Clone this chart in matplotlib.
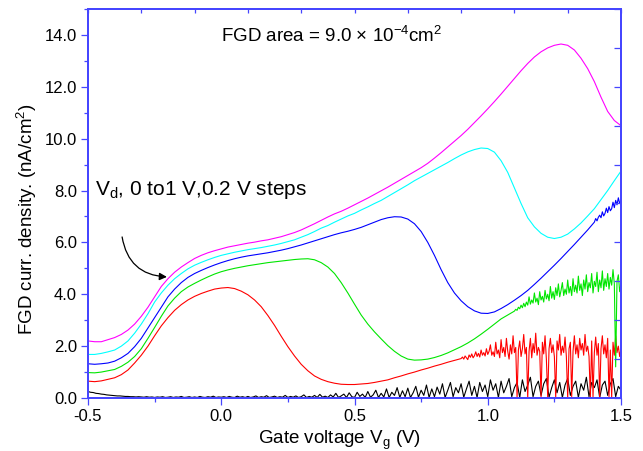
import numpy as np
import matplotlib
matplotlib.use("Agg")
import matplotlib.pyplot as plt
from matplotlib.ticker import MultipleLocator

plt.rcParams['font.family'] = ['Liberation Sans', 'DejaVu Sans']
plt.rcParams['mathtext.fontset'] = 'custom'
plt.rcParams['mathtext.rm'] = 'Liberation Sans'
plt.rcParams['mathtext.it'] = 'Liberation Sans'

# gate sweep for the smooth parts, 25 mV step
v_grid = np.round(np.arange(-0.5, 1.5001, 0.025), 3)

# Vd = 1.0 V
j_magenta = [2.20, 2.17, 2.17, 2.25, 2.33, 2.45, 2.62, 2.85, 3.15, 3.50,
             3.90, 4.30, 4.60, 4.85, 5.05, 5.22, 5.38, 5.50, 5.60, 5.68,
             5.75, 5.82, 5.87, 5.92, 5.97, 6.01, 6.06, 6.10, 6.16, 6.22,
             6.30, 6.38, 6.48, 6.60, 6.72, 6.85, 6.98, 7.10, 7.20, 7.32,
             7.45, 7.58, 7.71, 7.85, 7.99, 8.13, 8.28, 8.43, 8.58, 8.73,
             8.88, 9.05, 9.25, 9.46, 9.68, 9.90, 10.12, 10.36, 10.62, 10.88,
             11.15, 11.43, 11.72, 12.02, 12.32, 12.62, 12.90, 13.15, 13.35, 13.50,
             13.60, 13.65, 13.60, 13.42, 13.10, 12.70, 12.20, 11.60, 11.05, 10.70,
             10.50]
# Vd = 0.8 V
j_cyan = [1.68, 1.68, 1.72, 1.78, 1.85, 2.00, 2.20, 2.50, 2.85, 3.25,
          3.70, 4.05, 4.35, 4.60, 4.80, 4.98, 5.12, 5.23, 5.33, 5.42,
          5.50, 5.56, 5.62, 5.67, 5.72, 5.76, 5.80, 5.85, 5.90, 5.96,
          6.03, 6.10, 6.20, 6.30, 6.42, 6.55, 6.65, 6.78, 6.90, 7.02,
          7.12, 7.25, 7.37, 7.50, 7.62, 7.77, 7.92, 8.07, 8.22, 8.38,
          8.52, 8.66, 8.80, 8.94, 9.08, 9.23, 9.37, 9.49, 9.58, 9.64,
          9.62, 9.48, 9.15, 8.70, 8.10, 7.50, 6.95, 6.60, 6.35, 6.20,
          6.15, 6.20, 6.32, 6.52, 6.75, 7.02, 7.30, 7.65, 8.00, 8.38,
          8.75]
# Vd = 0.6 V (grid part up to 1.4 V)
j_blue = [1.32, 1.30, 1.32, 1.35, 1.42, 1.55, 1.72, 1.98, 2.30, 2.70,
          3.10, 3.50, 3.90, 4.20, 4.45, 4.65, 4.80, 4.92, 5.03, 5.13,
          5.22, 5.30, 5.37, 5.43, 5.48, 5.52, 5.56, 5.60, 5.65, 5.70,
          5.76, 5.83, 5.90, 5.98, 6.06, 6.14, 6.22, 6.30, 6.37, 6.43,
          6.50, 6.58, 6.68, 6.78, 6.88, 6.95, 6.99, 6.98, 6.90, 6.72,
          6.42, 6.00, 5.50, 4.95, 4.45, 4.05, 3.75, 3.52, 3.36, 3.27,
          3.26, 3.32, 3.45, 3.60, 3.77, 3.95, 4.15, 4.38, 4.62, 4.87,
          5.12, 5.38, 5.65, 5.92, 6.20, 6.48, 6.78]
# noisy end of the Vd = 0.6 V sweep, 5 mV step from 1.40 V
j_blue_tail = [6.78, 6.92, 6.83, 6.97, 7.05, 6.95, 7.18, 7.02, 7.12, 7.32,
               7.15, 7.38, 7.22, 7.30, 7.55, 7.34, 7.62, 7.45, 7.72, 7.50,
               7.62]
# Vd = 0.4 V (grid part up to 1.1 V)
j_green = [0.98, 0.97, 1.00, 1.05, 1.10, 1.22, 1.38, 1.60, 1.90, 2.30,
           2.72, 3.15, 3.55, 3.85, 4.10, 4.28, 4.42, 4.55, 4.67, 4.78,
           4.87, 4.94, 5.00, 5.05, 5.10, 5.14, 5.18, 5.22, 5.25, 5.28,
           5.31, 5.34, 5.36, 5.37, 5.33, 5.22, 5.05, 4.80, 4.45, 4.05,
           3.62, 3.20, 2.85, 2.55, 2.28, 2.02, 1.80, 1.62, 1.50, 1.46,
           1.47, 1.50, 1.56, 1.64, 1.74, 1.86, 1.98, 2.12, 2.28, 2.46,
           2.65, 2.85, 3.05, 3.20, 3.35]
# noisy end of the Vd = 0.4 V sweep, 5 mV step from 1.10 V
j_green_tail = [3.35, 3.42, 3.38, 3.50, 3.44, 3.58, 3.48, 3.65, 3.52, 3.70,
                3.58, 3.90, 3.62, 3.78, 3.66, 4.05, 3.70, 3.85, 3.60, 4.10,
                3.78, 3.92, 3.70, 4.15, 3.82, 4.00, 3.75, 4.30, 3.85, 4.10,
                3.80, 4.25, 3.95, 4.40, 3.90, 4.15, 4.45, 3.95, 4.20, 4.00,
                4.55, 4.05, 4.30, 3.95, 4.60, 4.10, 4.35, 4.05, 4.70, 4.15,
                4.40, 3.95, 4.55, 4.20, 4.75, 4.10, 4.45, 4.25, 4.80, 4.05,
                4.50, 4.30, 4.85, 4.10, 4.55, 4.25, 4.90, 4.15, 4.60, 4.30,
                4.80, 4.20, 4.65, 4.35, 4.95, 4.40, 1.20, 4.50, 4.75, 4.10,
                4.40]
# Vd = 0.2 V (grid part up to 0.9 V)
j_red = [0.65, 0.63, 0.66, 0.72, 0.78, 0.90, 1.08, 1.35, 1.65, 2.00,
         2.40, 2.78, 3.10, 3.38, 3.60, 3.78, 3.92, 4.03, 4.12, 4.20,
         4.24, 4.26, 4.22, 4.12, 3.98, 3.78, 3.52, 3.18, 2.80, 2.38,
         1.98, 1.62, 1.30, 1.05, 0.85, 0.72, 0.63, 0.57, 0.53, 0.52,
         0.52, 0.54, 0.56, 0.60, 0.65, 0.70, 0.78, 0.85, 0.93, 1.00,
         1.08, 1.15, 1.23, 1.30, 1.38, 1.45, 1.52]
# noisy end of the Vd = 0.2 V sweep, 5 mV step from 0.90 V
j_red_tail = [1.52, 1.58, 1.50, 1.62, 1.55, 1.48, 1.66, 1.57, 1.70, 1.55,
              1.63, 1.78, 1.60, 1.72, 1.58, 1.85, 1.65, 1.75, 1.62, 1.90,
              1.68, 1.80, 2.05, 1.65, 1.78, 1.60, 2.15, 1.70, 1.85, 1.55,
              2.25, 1.75, 1.95, 1.60, 2.30, 1.80, 1.50, 2.05, 1.70, 2.40,
              1.75, 1.95, 0.02, 1.85, 2.20, 1.60, 1.90, 2.45, 1.70, 1.95,
              0.00, 1.80, 2.30, 1.55, 2.10, 1.75, 2.50, 1.65, 1.95, 1.80,
              0.02, 2.15, 1.70, 2.40, 1.50, 0.03, 1.90, 2.30, 1.75, 2.05,
              1.60, 0.02, 2.20, 1.85, 2.45, 1.65, 2.00, 1.75, 2.35, 1.60,
              0.00, 1.90, 2.15, 0.05, 1.80, 2.40, 1.70, 2.05, 1.55, 2.30,
              1.85, 2.10, 1.65, 2.45, 1.80, 2.00, 1.60, 0.02, 2.20, 0.05,
              1.75, 2.35, 1.65, 2.10, 0.00, 1.90, 2.40, 1.70, 2.05, 1.55,
              2.30, 0.05, 1.85, 0.02, 2.15, 1.65, 2.40, 1.75, 2.00, 1.60,
              1.90]
# Vd = 0 V, 10 mV step over the whole sweep
v_black = np.round(np.arange(-0.5, 1.5001, 0.01), 2)
j_black = [0.25, 0.22, 0.21, 0.18, 0.17, 0.15, 0.14, 0.12, 0.11, 0.10,
           0.09, 0.08, 0.08, 0.07, 0.06, 0.06, 0.05, 0.05, 0.04, 0.05,
           0.04, 0.03, 0.05, 0.03, 0.04, 0.02, 0.04, 0.03, 0.05, 0.02,
           0.03, 0.05, 0.02, 0.04, 0.03, 0.06, 0.02, 0.03, 0.05, 0.02,
           0.04, 0.02, 0.06, 0.03, 0.02, 0.05, 0.03, 0.07, 0.02, 0.04,
           0.03, 0.05, 0.02, 0.06, 0.03, 0.02, 0.07, 0.03, 0.05, 0.02,
           0.06, 0.02, 0.04, 0.08, 0.02, 0.05, 0.03, 0.09, 0.02, 0.04,
           0.07, 0.02, 0.05, 0.03, 0.10, 0.02, 0.06, 0.03, 0.08, 0.02,
           0.05, 0.12, 0.02, 0.06, 0.03, 0.10, 0.02, 0.14, 0.03, 0.07,
           0.02, 0.12, 0.04, 0.18, 0.02, 0.08, 0.15, 0.02, 0.20, 0.05,
           0.02, 0.22, 0.06, 0.15, 0.02, 0.25, 0.03, 0.12, 0.30, 0.02,
           0.18, 0.04, 0.35, 0.02, 0.22, 0.10, 0.40, 0.02, 0.28, 0.05,
           0.38, 0.02, 0.20, 0.45, 0.03, 0.30, 0.10, 0.50, 0.02, 0.35,
           0.05, 0.42, 0.15, 0.55, 0.02, 0.30, 0.60, 0.05, 0.40, 0.20,
           0.55, 0.03, 0.35, 0.65, 0.10, 0.45, 0.02, 0.60, 0.25, 0.50,
           0.05, 0.70, 0.30, 0.55, 0.02, 0.65, 0.20, 0.45, 0.75, 0.05,
           0.40, 0.60, 0.02, 0.70, 0.25, 0.50, 0.80, 0.05, 0.45, 0.65,
           0.10, 0.55, 0.75, 0.03, 0.40, 0.70, 0.20, 0.60, 0.02, 0.50,
           0.75, 0.10, 0.45, 0.65, 0.02, 0.55, 0.30, 0.80, 0.05, 0.60,
           0.40, 0.70, 0.02, 0.50, 0.65, 0.10, 0.55, 0.75, 0.05, 0.45,
           0.30]

AXIS_BLUE = '#4646ff'
LW = 0.8


def sweep(grid_part, tail, v_tail_start, step=0.005):
    """Join the 25 mV grid part of a sweep with its finely sampled noisy tail."""
    v_tail = v_tail_start + step * np.arange(len(tail))
    v = np.concatenate([v_grid[:len(grid_part)], v_tail[1:]])
    return v, list(grid_part) + list(tail[1:])


fig = plt.figure(figsize=(6.43, 4.51), dpi=100)
ax = fig.add_axes([88 / 643, 53 / 451, 533 / 643, 389 / 451])

ax.plot(v_black, j_black, color='black', lw=LW, zorder=2)
ax.plot(*sweep(j_red, j_red_tail, 0.90), color='#ff0000', lw=LW, zorder=3)
ax.plot(*sweep(j_green, j_green_tail, 1.10), color='#00e600', lw=LW, zorder=4)
ax.plot(*sweep(j_blue, j_blue_tail, 1.40), color='#0000ff', lw=LW, zorder=5)
ax.plot(v_grid, j_cyan, color='#00ffff', lw=LW, zorder=6)
ax.plot(v_grid, j_magenta, color='#ff00ff', lw=LW, zorder=7)

ax.set_xlim(-0.5, 1.5)
ax.set_ylim(0, 15)
ax.xaxis.set_major_locator(MultipleLocator(0.5))
ax.xaxis.set_minor_locator(MultipleLocator(0.25))
ax.yaxis.set_major_locator(MultipleLocator(2))
ax.yaxis.set_minor_locator(MultipleLocator(1))
ax.xaxis.set_major_formatter(plt.FormatStrFormatter('%.1f'))
ax.yaxis.set_major_formatter(plt.FormatStrFormatter('%.1f'))
ax.tick_params(which='major', direction='out', length=5, width=0.9,
               color=AXIS_BLUE, labelsize=12, pad=3)
ax.tick_params(which='minor', direction='out', length=2.8, width=0.9,
               color=AXIS_BLUE)

ax.set_xlabel(r'Gate voltage V$_\mathregular{g}$ (V)', fontsize=13.5)
ax.set_ylabel(r'FGD curr. density. (nA/cm$^\mathregular{2}$)', fontsize=13.5)
ax.xaxis.set_label_coords(0.471, -0.078)
ax.yaxis.set_label_coords(-0.092, 0.46)

# unlabelled frame ticks on top and right
top = ax.twiny()
top.set_xlim(-0.5, 1.5)
top.set_xticks(np.round(np.arange(-0.5, 1.5001, 0.2), 2))
top.tick_params(direction='in', length=3, width=0.9, color=AXIS_BLUE,
                labeltop=False)
right = ax.twinx()
right.set_ylim(0, 10)
right.set_yticks(range(11))
right.tick_params(direction='in', length=5, width=0.9, color=AXIS_BLUE,
                  labelright=False)

for a in (ax, top, right):
    for sp in a.spines.values():
        sp.set_color(AXIS_BLUE)
        sp.set_linewidth(1.2)

ax.text(0.0, 13.74, r'FGD area = 9.0 $\times$ 10$^\mathregular{-4}$cm$^\mathregular{2}$',
        fontsize=13.5, ha='left', va='baseline')
ax.text(-0.474, 7.83, r'V$_\mathregular{d}$, 0 to1 V,0.2 V steps',
        fontsize=15, ha='left', va='baseline')
ax.annotate('', xy=(-0.204, 4.67), xytext=(-0.372, 6.21),
            arrowprops=dict(arrowstyle='-|>', connectionstyle='arc3,rad=0.4',
                            color='black', lw=0.9, mutation_scale=11,
                            shrinkA=0, shrinkB=0))

fig.savefig('out.png', dpi=100)
